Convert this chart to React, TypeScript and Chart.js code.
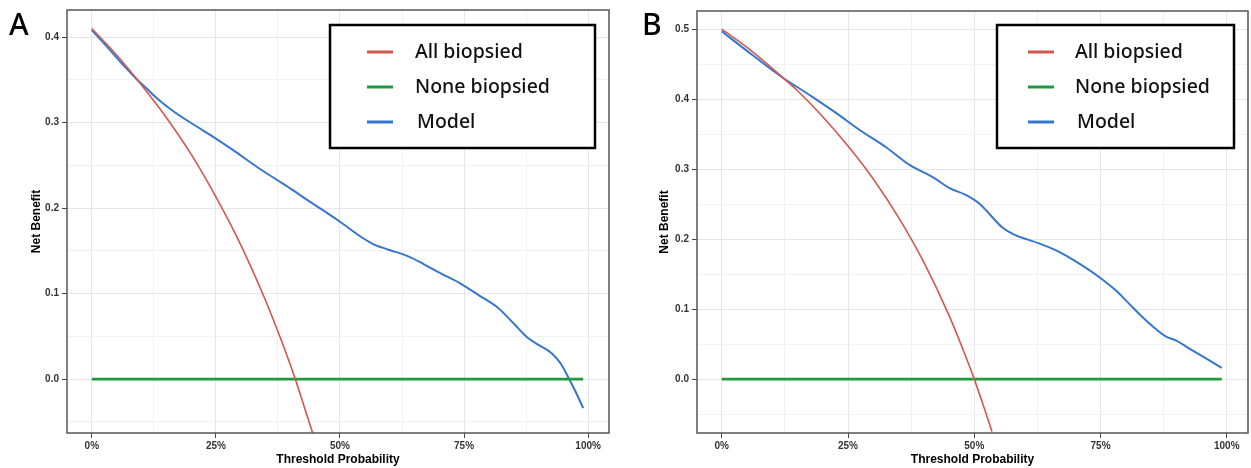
import React, { useEffect, useRef } from "react";
import { Chart, registerables } from "chart.js";

Chart.register(...registerables);

// ---------- Data ----------
const SERIES_LABELS = ["All biopsied", "None biopsied", "Model"];

const X_MAJOR = [0, 25, 50, 75, 100];
const X_MINOR = [12.5, 37.5, 62.5, 87.5];
const X_TICK_LABELS = ["0%", "25%", "50%", "75%", "100%"];

// Panel A
const A_Y_MAJOR = [0, 0.1, 0.2, 0.3, 0.4];
const A_Y_MINOR = [-0.05, 0.05, 0.15, 0.25, 0.35];
const A_Y_LABELS = ["0.0", "0.1", "0.2", "0.3", "0.4"];

const A_ALL_X = [0, 5, 10, 15, 20, 25, 30, 35, 38, 41, 43, 44.5];
const A_ALL_Y = [0.41, 0.379, 0.344, 0.306, 0.263, 0.213, 0.157, 0.092, 0.048, 0.0, -0.036, -0.063];

const A_NONE_X = [0, 99];
const A_NONE_Y = [0, 0];

const A_MODEL_X = [0, 3, 5, 7, 9, 11, 13, 16, 20.4, 24, 28.4, 33.3, 37, 40.5, 43, 45.9, 50, 54.6, 57, 60, 64, 67, 70.2, 74.2, 78, 81.7, 85, 87.7, 90, 92.7, 94.5, 96, 97.5, 99];
const A_MODEL_Y = [0.408, 0.389, 0.376, 0.363, 0.351, 0.34, 0.329, 0.315, 0.298, 0.285, 0.268, 0.248, 0.234, 0.221, 0.211, 0.2, 0.184, 0.165, 0.157, 0.151, 0.143, 0.134, 0.124, 0.112, 0.098, 0.084, 0.065, 0.049, 0.04, 0.03, 0.018, 0.002, -0.015, -0.034];

// Panel B
const B_Y_MAJOR = [0, 0.1, 0.2, 0.3, 0.4, 0.5];
const B_Y_MINOR = [-0.05, 0.05, 0.15, 0.25, 0.35, 0.45];
const B_Y_LABELS = ["0.0", "0.1", "0.2", "0.3", "0.4", "0.5"];

const B_ALL_X = [0, 5, 10, 15, 20, 25, 30, 35, 40, 45, 48, 50, 52, 53.5];
const B_ALL_Y = [0.5, 0.474, 0.444, 0.412, 0.375, 0.333, 0.286, 0.231, 0.167, 0.091, 0.038, 0.0, -0.042, -0.075];

const B_NONE_X = [0, 99];
const B_NONE_Y = [0, 0];

const B_MODEL_X = [0, 5, 10.1, 12.8, 15, 18, 22.7, 27.3, 32.6, 37.2, 41.7, 45.1, 48.4, 51, 53, 55.5, 58, 60.3, 62.8, 66.2, 68.5, 70.8, 74.7, 78, 81.3, 84.6, 87.9, 90, 92.5, 95.8, 99];
const B_MODEL_Y = [0.497, 0.469, 0.441, 0.427, 0.417, 0.403, 0.38, 0.356, 0.331, 0.306, 0.289, 0.273, 0.263, 0.251, 0.236, 0.217, 0.206, 0.2, 0.194, 0.184, 0.175, 0.165, 0.146, 0.127, 0.103, 0.08, 0.061, 0.055, 0.044, 0.03, 0.016];

// ---------- Styles ----------
const COLORS = ["#d2574f", "#1f9a3d", "#3577cf"];
const WIDTHS = [1.6, 2.6, 2.0];

const toPts = (xs: number[], ys: number[]) => xs.map((x, i) => ({ x, y: ys[i] }));

const framePlugin = {
  id: "frameLegend",
  afterDraw(chart: any, _args: any, opts: any) {
    const { ctx, chartArea: a } = chart;
    ctx.save();
    // frame
    ctx.strokeStyle = "#555555";
    ctx.lineWidth = 1.5;
    ctx.strokeRect(a.left, a.top, a.right - a.left, a.bottom - a.top);
    // legend box
    const L = opts.legend;
    ctx.fillStyle = "#ffffff";
    ctx.fillRect(L.x1, L.y1, L.x2 - L.x1, L.y2 - L.y1);
    ctx.strokeStyle = "#000000";
    ctx.lineWidth = 2.5;
    ctx.strokeRect(L.x1, L.y1, L.x2 - L.x1, L.y2 - L.y1);
    ctx.font = "500 19.5px 'Noto Sans', sans-serif";
    ctx.textBaseline = "middle";
    ctx.textAlign = "left";
    chart.data.datasets.forEach((ds: any, i: number) => {
      const y = L.rows[i];
      ctx.strokeStyle = ds.borderColor;
      ctx.lineWidth = 3;
      ctx.beginPath();
      ctx.moveTo(L.lx1, y);
      ctx.lineTo(L.lx2, y);
      ctx.stroke();
      ctx.fillStyle = "#111111";
      ctx.fillText(ds.label, L.tx + (i === 2 ? 2 : 0), y);
    });
    // panel letter
    ctx.fillStyle = "#000000";
    ctx.font = "500 30px 'Noto Sans', sans-serif";
    ctx.textBaseline = "alphabetic";
    ctx.fillText(opts.letter, opts.letterX, opts.letterY);
    ctx.restore();
  },
};

type PanelProps = {
  letter: string;
  left: number;
  width: number;
  height: number;
  padding: { left: number; right: number; top: number; bottom: number };
  yAxisWidth: number;
  yTitlePad: number;
  xMin: number;
  xMax: number;
  yMin: number;
  yMax: number;
  yMajor: number[];
  yMinor: number[];
  yLabels: string[];
  allX: number[];
  allY: number[];
  noneX: number[];
  noneY: number[];
  modelX: number[];
  modelY: number[];
  legend: any;
  letterX: number;
  letterY: number;
};

function Panel(p: PanelProps) {
  const ref = useRef<HTMLCanvasElement | null>(null);
  useEffect(() => {
    if (!ref.current) return;
    const isMajorX = (v: number) => X_MAJOR.some((m) => Math.abs(m - v) < 1e-6);
    const isMajorY = (v: number) => p.yMajor.some((m) => Math.abs(m - v) < 1e-6);
    const chart = new Chart(ref.current, {
      type: "line",
      data: {
        datasets: [
          { label: SERIES_LABELS[0], data: toPts(p.allX, p.allY), borderColor: COLORS[0], borderWidth: WIDTHS[0], cubicInterpolationMode: "monotone" },
          { label: SERIES_LABELS[1], data: toPts(p.noneX, p.noneY), borderColor: COLORS[1], borderWidth: WIDTHS[1] },
          { label: SERIES_LABELS[2], data: toPts(p.modelX, p.modelY), borderColor: COLORS[2], borderWidth: WIDTHS[2], cubicInterpolationMode: "monotone" },
        ] as any,
      },
      options: {
        animation: false,
        responsive: false,
        devicePixelRatio: 1,
        parsing: false as any,
        elements: { point: { radius: 0 } },
        layout: { padding: p.padding },
        plugins: {
          legend: { display: false },
          tooltip: { enabled: false },
          frameLegend: { legend: p.legend, letter: p.letter, letterX: p.letterX, letterY: p.letterY },
        } as any,
        scales: {
          x: {
            type: "linear",
            min: p.xMin,
            max: p.xMax,
            afterBuildTicks: (scale: any) => {
              scale.ticks = [...X_MAJOR, ...X_MINOR].sort((a, b) => a - b).map((v) => ({ value: v }));
            },
            afterFit: (scale: any) => {
              scale.height = 35;
            },
            border: { display: false },
            grid: {
              color: (ctx: any) => (ctx.tick && isMajorX(ctx.tick.value) ? "#e6e6e6" : "#f2f2f2"),
              lineWidth: 1,
              tickColor: (ctx: any) => (ctx.tick && isMajorX(ctx.tick.value) ? "#444444" : "rgba(0,0,0,0)"),
              tickLength: 5,
            },
            ticks: {
              autoSkip: false,
              maxRotation: 0,
              padding: 2,
              color: "#333333",
              font: { family: "'Liberation Sans', Arial, sans-serif", size: 10, weight: "bold" },
              callback: (v: any) => {
                const idx = X_MAJOR.findIndex((m) => Math.abs(m - Number(v)) < 1e-6);
                return idx >= 0 ? X_TICK_LABELS[idx] : "";
              },
            },
            title: {
              display: true,
              text: "Threshold Probability",
              color: "#000000",
              font: { family: "'Liberation Sans', Arial, sans-serif", size: 12, weight: "bold" },
              padding: { top: 0, bottom: 1 },
            },
          },
          y: {
            type: "linear",
            min: p.yMin,
            max: p.yMax,
            afterBuildTicks: (scale: any) => {
              scale.ticks = [...p.yMajor, ...p.yMinor].sort((a, b) => a - b).map((v) => ({ value: v }));
            },
            afterFit: (scale: any) => {
              scale.width = p.yAxisWidth;
            },
            border: { display: false },
            grid: {
              color: (ctx: any) => (ctx.tick && isMajorY(ctx.tick.value) ? "#e6e6e6" : "#f2f2f2"),
              lineWidth: 1,
              tickColor: (ctx: any) => (ctx.tick && isMajorY(ctx.tick.value) ? "#444444" : "rgba(0,0,0,0)"),
              tickLength: 5,
            },
            ticks: {
              autoSkip: false,
              padding: 3,
              color: "#333333",
              font: { family: "'Liberation Sans', Arial, sans-serif", size: 10, weight: "bold" },
              callback: (v: any) => {
                const idx = p.yMajor.findIndex((m) => Math.abs(m - Number(v)) < 1e-6);
                return idx >= 0 ? p.yLabels[idx] : "";
              },
            },
            title: {
              display: true,
              text: "Net Benefit",
              color: "#000000",
              font: { family: "'Liberation Sans', Arial, sans-serif", size: 12, weight: "bold" },
              padding: { top: p.yTitlePad, bottom: 0 },
            },
          },
        },
      },
      plugins: [framePlugin],
    } as any);
    return () => chart.destroy();
  }, []);
  return (
    <canvas
      ref={ref}
      width={p.width}
      height={p.height}
      style={{ position: "absolute", left: p.left, top: 0, width: p.width, height: p.height }}
    />
  );
}

export default function App() {
  return (
    <div style={{ position: "absolute", left: 0, top: 0, width: 1251, height: 468, background: "#ffffff", overflow: "hidden" }}>
      <Panel
        letter="A"
        left={0}
        width={620}
        height={468}
        padding={{ left: 20, right: 11, top: 10, bottom: 0 }}
        yAxisWidth={47}
        yTitlePad={9}
        xMin={-5}
        xMax={104.2}
        yMin={-0.063}
        yMax={0.4316}
        yMajor={A_Y_MAJOR}
        yMinor={A_Y_MINOR}
        yLabels={A_Y_LABELS}
        allX={A_ALL_X}
        allY={A_ALL_Y}
        noneX={A_NONE_X}
        noneY={A_NONE_Y}
        modelX={A_MODEL_X}
        modelY={A_MODEL_Y}
        legend={{ x1: 330, y1: 25, x2: 595, y2: 148, lx1: 367, lx2: 393, tx: 415, rows: [52, 87, 122] }}
        letterX={9}
        letterY={35}
      />
      <Panel
        letter="B"
        left={620}
        width={631}
        height={468}
        padding={{ left: 30, right: 3, top: 11, bottom: 0 }}
        yAxisWidth={47}
        yTitlePad={7}
        xMin={-4.9}
        xMax={104.2}
        yMin={-0.077}
        yMax={0.526}
        yMajor={B_Y_MAJOR}
        yMinor={B_Y_MINOR}
        yLabels={B_Y_LABELS}
        allX={B_ALL_X}
        allY={B_ALL_Y}
        noneX={B_NONE_X}
        noneY={B_NONE_Y}
        modelX={B_MODEL_X}
        modelY={B_MODEL_Y}
        legend={{ x1: 377, y1: 25, x2: 614, y2: 148, lx1: 408, lx2: 434, tx: 455, rows: [52, 87, 122] }}
        letterX={22}
        letterY={35}
      />
    </div>
  );
}
